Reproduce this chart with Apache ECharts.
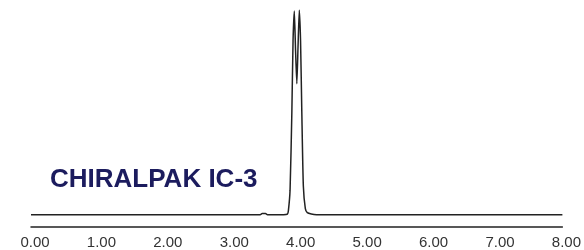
<!DOCTYPE html>
<html>
<head>
<meta charset="utf-8">
<script src="https://cdn.jsdelivr.net/npm/echarts@6/dist/echarts.min.js"></script>
<style>
  html, body { margin: 0; padding: 0; background: #fff; }
  #main { width: 584px; height: 250px; }
</style>
</head>
<body>
<div id="main"></div>
<script>
// retention time (min) and detector signal (relative %)
const times = [0, 3.45, 3.48, 3.53, 3.56, 3.80, 3.86, 3.875, 3.90, 3.927, 3.945, 3.964, 3.983, 4.002, 4.02, 4.039, 4.058, 4.077, 4.10, 4.13, 4.16, 4.22, 4.30, 8];
const signal = [0, 0, 0.6, 0.6, 0, 0, 0.3, 2, 12, 50, 85, 99.5, 80, 64, 82, 100, 85, 50, 14, 3, 1, 0.3, 0, 0];
const xTicks = [0, 1, 2, 3, 4, 5, 6, 7, 8];
const columnName = 'CHIRALPAK IC-3';

const chart = echarts.init(document.getElementById('main'));

const option = {
  animation: false,
  backgroundColor: '#fff',
  title: {
    text: columnName,
    left: 45,
    top: 162,
    textStyle: {
      fontFamily: 'Liberation Sans, Arial, sans-serif',
      fontSize: 26,
      fontWeight: 'bold',
      color: '#1c1c5e',
    },
  },
  grid: { left: 31, right: 20, top: 10, bottom: 23 },
  xAxis: {
    type: 'value',
    min: xTicks[0],
    max: xTicks[xTicks.length - 1],
    interval: 1,
    axisLine: { show: true, onZero: false, lineStyle: { color: '#222', width: 1.5 } },
    axisTick: { show: false },
    splitLine: { show: false },
    axisLabel: {
      margin: 8,
      padding: [0, 0, 0, 8],
      color: '#333',
      fontSize: 15,
      fontFamily: 'Liberation Sans, Arial, sans-serif',
      formatter: (v) => v.toFixed(2),
    },
  },
  yAxis: {
    type: 'value',
    min: -6,
    max: 100,
    show: false,
  },
  series: [
    {
      type: 'line',
      data: times.map((t, i) => [t, signal[i]]),
      showSymbol: false,
      smooth: 0.2,
      lineStyle: { color: '#222', width: 1.5 },
    },
  ],
};

chart.setOption(option);
</script>
</body>
</html>
